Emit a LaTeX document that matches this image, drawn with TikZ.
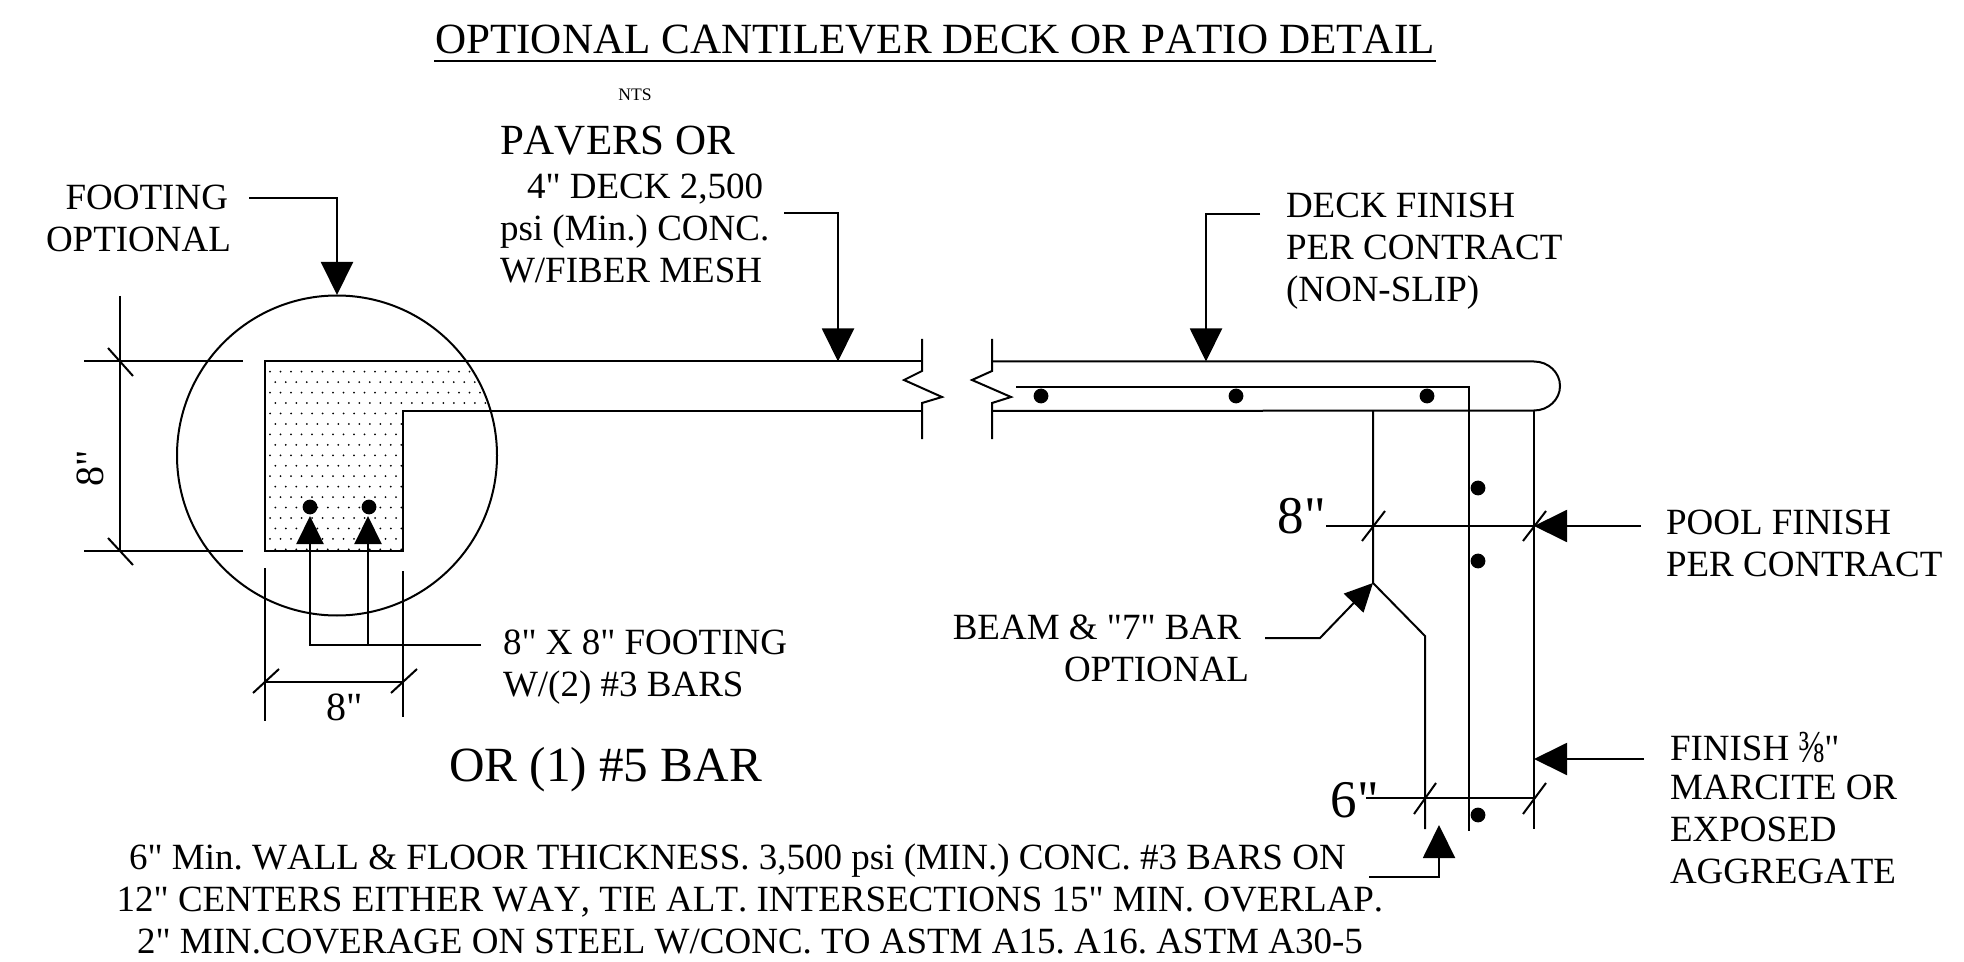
\documentclass[tikz,border=0pt]{standalone}
\usepackage{fontspec}
\usepackage{graphicx}
\setmainfont{Liberation Serif}[Ligatures=TeXOff, Kerning=Off]
\usetikzlibrary{positioning, arrows.meta}
\frenchspacing

\begin{document}
\begin{tikzpicture}[
        x=0.5pt, y=-0.5pt,
        line width=1pt,
        lbl/.style={inner sep=0pt, font=\fontsize{18.5}{21}\selectfont, align=left},
        biglbl/.style={inner sep=0pt, font=\fontsize{26.5}{28}\selectfont},
        leader/.style={-{Triangle[length=16.5pt, width=16pt]}},
        smallleader/.style={-{Triangle[length=14pt, width=13.5pt]}},
        rebar/.style={fill=black, draw=none}
        ]
        \useasboundingbox (0,0) rectangle (1964,962);

        % headings
        \node[inner sep=0pt, font=\fontsize{21.55}{24}\selectfont, anchor=base] (title) at (935,54) {OPTIONAL CANTILEVER DECK OR PATIO DETAIL};
        \draw (title.west |- 0,61) -- (title.east |- 0,61);
        \node[inner sep=0pt, font=\fontsize{8.8}{10}\selectfont, anchor=base] (nts) at (635,101) {NTS};

        % footing and deck outline
        \begin{scope}
            \clip (337,455.5) circle (80pt);
            \clip (265,361.5) -- (520,361.5) -- (520,411) -- (403,411) -- (403,551) -- (265,551) -- cycle;
            \foreach \row in {0,...,17}
                \foreach \col in {0,...,25} {
                    \pgfmathsetmacro{\dotx}{270+10.5*\col-5.2*mod(\row,2)}
                    \pgfmathsetmacro{\doty}{371.7+10.45*\row}
                    \fill (\dotx,\doty) circle (0.5pt);
                }
        \end{scope}
        \draw (337,455.5) circle (80pt);
        \draw (922,361.5) -- (265,361.5) -- (265,551) -- (403,551) -- (403,411) -- (922,411);
        \draw (922,339) -- (922,371) -- (904,380) -- (942,397) -- (922,403) -- (922,439);
        \draw (992,339) -- (992,371) -- (972,380) -- (1011,397) -- (992,403) -- (992,439);
        \draw (992,361.5) -- (1534,361.5) arc[start angle=90, end angle=-90, x radius=13pt, y radius=12.25pt] -- (992,411);

        % wall and rebar
        \draw (1016,387) -- (1469,387) -- (1469,831);
        \draw (1373,411) -- (1373,583) -- (1425,636) -- (1425,829);
        \draw (1534,411) -- (1534,829);
        \foreach \barx/\bary in {1041/396, 1236/396, 1427/396, 1478/488, 1478/561, 1478/815}
            \fill[rebar] (\barx,\bary) circle (3.7pt);
        \foreach \barx in {310,369}
            \fill[rebar] (\barx,507) circle (3.7pt);

        % dimensions
        \draw (84,361.5) -- (243,361.5);
        \draw (84,551) -- (243,551);
        \draw (120,296) -- (120,551);
        \draw (108,348) -- (133,376);
        \draw (108,538) -- (133,565);
        \node[lbl, font=\fontsize{20}{21}\selectfont, rotate=90] (dimleft) at (90,468) {8"};
        \draw (265,568) -- (265,721);
        \draw (403,571) -- (403,717);
        \draw (265,682) -- (403,682);
        \draw (253,693) -- (279,669);
        \draw (391,693) -- (417,669);
        \node[lbl, font=\fontsize{20}{21}\selectfont] (dimbottom) at (345,707) {8"};
        \node[biglbl] (dimwall) at (1302,516) {8"};
        \draw (1326,526) -- (1534,526);
        \draw (1362,541) -- (1385,511);
        \draw (1523,541) -- (1546,511);
        \node[biglbl] (dimfloor) at (1355,800) {6"};
        \draw (1366,798) -- (1534,798);
        \draw (1414,814) -- (1436,783);
        \draw (1523,814) -- (1546,783);

        % callouts
        \node[lbl, anchor=north east, align=right] (footing) at (232,184) {FOOTING\hspace*{1.5pt}\\OPTIONAL};
        \node[inner sep=0pt, font=\fontsize{21.5}{24}\selectfont, anchor=base west] (pavers) at (499,155) {PAVERS OR};
        \node[lbl, anchor=north west] (deck) at (499,173) {\hspace*{13.5pt}4" DECK 2,500\\psi (Min.) CONC.\\W/FIBER MESH};
        \node[lbl, anchor=north west] (finish) at (1285,192) {DECK FINISH\\PER CONTRACT\\(NON-SLIP)};
        \node[lbl, anchor=north west] (pool) at (1665,509) {POOL FINISH\\PER CONTRACT};
        \node[lbl, anchor=north east, align=right] (beam) at (1250,614) {BEAM \& "7" BAR\hspace*{4pt}\\OPTIONAL};
        \node[lbl, anchor=north west] (bars) at (502,629) {8" X 8" FOOTING\\W/(2) \#3 BARS};
        \node[inner sep=0pt, font=\fontsize{24.6}{26}\selectfont, anchor=base west] (onebar) at (448,781) {OR (1) \#5 BAR};
        \node[lbl, anchor=north west] (marcite) at (1669,735) {FINISH \smash{\fontsize{23}{21}\selectfont\raisebox{-1pt}{\scalebox{0.75}[1]{⅜}}}"\\[-1.5pt]MARCITE OR\\EXPOSED\\AGGREGATE};
        \node[lbl, anchor=north, align=center] (notes) at (750,843) {6" Min. WALL \& FLOOR THICKNESS. 3,500 psi (MIN.) CONC. \#3 BARS ON\hspace*{12.5pt}\\12" CENTERS EITHER WAY, TIE ALT. INTERSECTIONS 15" MIN. OVERLAP.\\2" MIN.COVERAGE ON STEEL W/CONC. TO ASTM A15. A16. ASTM A30-5};

        % leaders
        \coordinate (footingtip) at (337,295);
        \coordinate (deckcontact) at (838,361.5);
        \coordinate (finishcontact) at (1206,361.5);
        \coordinate (beamtip) at (1373,583);
        \coordinate (pooltip) at (1534,526);
        \coordinate (marcitetip) at (1534,759);
        \coordinate (notestip) at (1439,825);
        \draw[leader] (249,198) -| (footingtip);
        \draw[leader] (784,213) -| (deckcontact);
        \draw[leader] (1260,214) -| (finishcontact);
        \draw[leader] (1641,526) -- (pooltip);
        \draw[leader] (1644,759) -- (marcitetip);
        \draw[leader] (1369,877) -| (notestip);
        \draw[smallleader] (1265,638) -- (1320,638) -- (beamtip);
        \draw[smallleader] (481,645) -- (310,645) -- (310,516);
        \draw[smallleader] (368,645) -- (368,516);
    \end{tikzpicture}
\end{document}
